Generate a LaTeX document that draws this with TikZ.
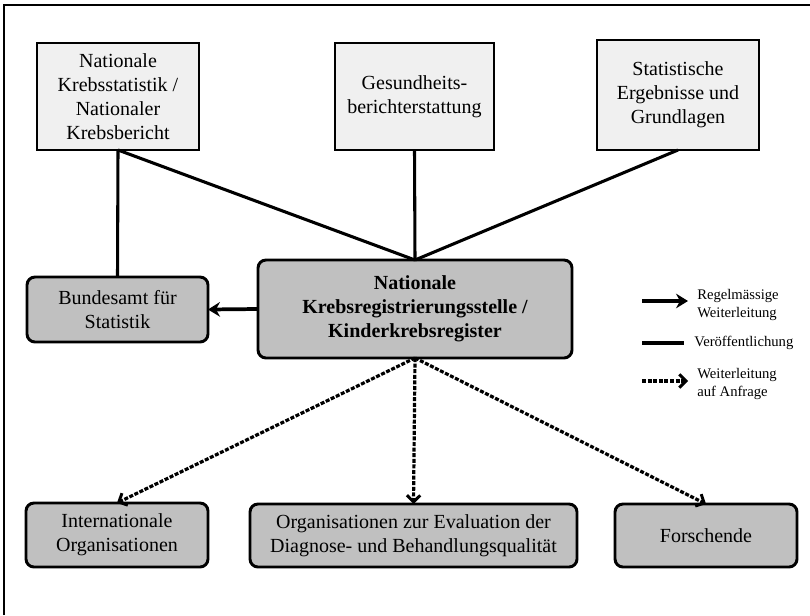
\documentclass[tikz,border=0pt]{standalone}
\usepackage{fontspec}
\setmainfont{Liberation Serif}
\usetikzlibrary{arrows.meta}
\definecolor{boxlight}{HTML}{F0F0F0}
\definecolor{boxgray}{HTML}{C0C0C0}
\begin{document}
\begin{tikzpicture}[x=0.75pt,y=-0.75pt,
  basebox/.style={draw, line width=2.2pt, align=center, inner sep=2pt, outer sep=0pt,
    font=\fontsize{15}{18}\selectfont},
  topbox/.style={basebox, fill=boxlight},
  graybox/.style={basebox, fill=boxgray, rounded corners=6pt},
  conn/.style={line width=2.3pt},
  regular/.style={line width=2.8pt, -{Stealth[length=9pt,width=11pt,inset=3pt]}},
  onrequest/.style={line width=2.4pt, dash pattern=on 3pt off 1.2pt,
    -{Straight Barb[length=5pt,width=10pt,line width=2.2pt]}},
  legtext/.style={align=left, anchor=west, inner sep=0pt,
    font=\fontsize{11}{13}\selectfont}
]
\useasboundingbox (0,0) rectangle (810,615);
% outer frame (only top and left visible)
\draw[line width=2.2pt] (4,615) -- (4,5) -- (812,5);

% top row
\node[topbox, minimum width=121.5pt, minimum height=80.25pt] (stat) at (118,96.5)
  {Nationale\\Krebsstatistik /\\Nationaler\\Krebsbericht};
\node[topbox, minimum width=119.25pt, minimum height=80.25pt] (gbe) at (414.5,96.5)
  {Gesundheits-\\berichterstattung};
\node[topbox, minimum width=121.5pt, minimum height=82.5pt] (erg) at (678,95)
  {Statistische\\Ergebnisse und\\Grundlagen};

% middle row
\node[graybox, minimum width=135.75pt, minimum height=48.75pt] (bfs) at (117.5,309.5)
  {Bundesamt für\\Statistik};
\node[graybox, minimum width=235.5pt, minimum height=73.5pt, font=\fontsize{15}{18}\selectfont\bfseries] (nkr) at (415,309)
  {Nationale\\Krebsregistrierungsstelle /\\Kinderkrebsregister};

% bottom row
\node[graybox, minimum width=136.5pt, minimum height=48pt] (int) at (117,535)
  {Internationale\\Organisationen};
\node[graybox, minimum width=245.25pt, minimum height=47.25pt] (org) at (413.5,535.5)
  {Organisationen zur Evaluation der\\Diagnose- und Behandlungsqualität};
\node[graybox, minimum width=136.5pt, minimum height=47.25pt] (for) at (706,535.5)
  {Forschende};

% publication lines
\draw[conn] (stat.south) -- (bfs.north);
\draw[conn] (stat.south) -- (nkr.north);
\draw[conn] (gbe.south) -- (nkr.north);
\draw[conn] (erg.south) -- (nkr.north);

% regular forwarding
\draw[regular] (nkr.west) -- (bfs.east);

% forwarding on request
\draw[onrequest] (nkr.south) -- (int.north);
\draw[onrequest] (nkr.south) -- (org.north);
\draw[onrequest] (nkr.south) -- (for.north);

% legend
\coordinate (l1a) at (642,301); \coordinate (l1b) at (688,301);
\coordinate (l2a) at (642,343); \coordinate (l2b) at (684,343);
\coordinate (l3a) at (642,381); \coordinate (l3b) at (688,381);
\draw[regular] (l1a) -- (l1b);
\draw[conn] (l2a) -- (l2b);
\draw[onrequest] (l3a) -- (l3b);
\node[legtext] (t1) at (697,305) {Regelmässige\\Weiterleitung};
\node[legtext] (t2) at (694,343) {Veröffentlichung};
\node[legtext] (t3) at (697,384) {Weiterleitung\\auf Anfrage};
\end{tikzpicture}
\end{document}
